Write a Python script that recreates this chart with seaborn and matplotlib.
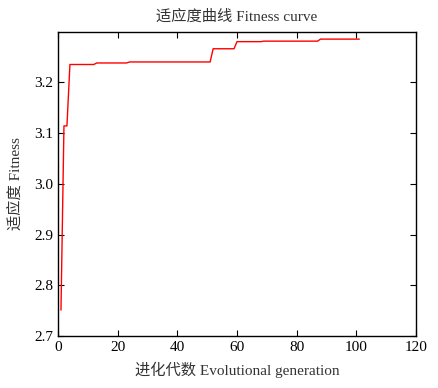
import pandas as pd
import seaborn as sns
import matplotlib.pyplot as plt

# vertices of the fitness curve
generations = [1, 2, 3, 4, 12, 13, 23, 24, 51, 52, 59, 60, 68, 69, 87, 88, 101]
fitness = [2.751, 3.114, 3.114, 3.235, 3.235, 3.238, 3.238, 3.240, 3.240,
           3.266, 3.266, 3.280, 3.280, 3.281, 3.281, 3.285, 3.285]

x_ticks = [0, 20, 40, 60, 80, 100, 120]
y_ticks = [2.7, 2.8, 2.9, 3.0, 3.1, 3.2]

sns.set_style("ticks")
plt.rcParams["font.family"] = ["Liberation Serif", "Noto Sans CJK SC"]
plt.rcParams["axes.unicode_minus"] = False

df = pd.DataFrame({"generation": generations, "fitness": fitness})

fig = plt.figure(figsize=(4.38, 3.88), dpi=100)
ax = fig.add_axes([0.1324, 0.134, 0.8174, 0.7835])
sns.lineplot(data=df, x="generation", y="fitness", color="red", linewidth=1.0, ax=ax)

ax.set_xlim(0, 120)
ax.set_ylim(2.7, 3.299)
ax.set_xticks(x_ticks)
ax.set_yticks(y_ticks)
ax.set_yticklabels([f"{v:.1f}" for v in y_ticks])
ax.tick_params(direction="in", top=True, right=True, length=4, width=0.8,
               labelsize=11, colors="black")
for side in ax.spines.values():
    side.set_linewidth(1.0)
    side.set_color("black")

ax.set_title("适应度曲线 Fitness curve", fontsize=11, color="#333333", pad=8)
ax.set_xlabel("进化代数 Evolutional generation", fontsize=11, color="#333333", labelpad=6)
ax.set_ylabel("适应度 Fitness", fontsize=11, color="#333333", labelpad=8)

fig.savefig("out.png", dpi=100)
